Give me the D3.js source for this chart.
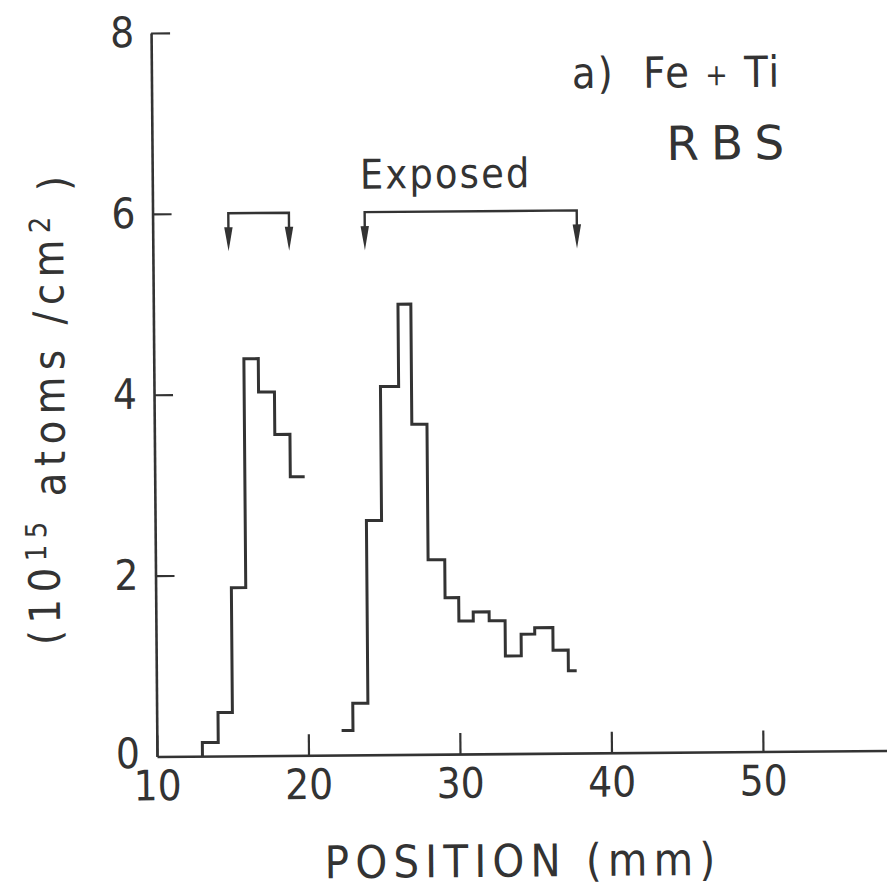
<!DOCTYPE html>
<html>
<head>
<meta charset="utf-8">
<script src="https://cdn.jsdelivr.net/npm/d3@7"></script>
<style>
  html, body { margin: 0; padding: 0; background: #fff; }
  svg { display: block; }
  text { font-family: "DejaVu Sans Condensed", "DejaVu Sans", sans-serif; font-stretch: condensed; fill: #333; }
  text.wide { font-family: "DejaVu Sans", sans-serif; font-stretch: normal; }
</style>
</head>
<body>
<svg id="chart" width="887" height="893"></svg>
<script>
// Fe + Ti areal density (10^15 atoms/cm^2) vs position, RBS
const leftEdges  = [13, 14.05, 15, 15.95, 16.9, 17.95, 18.95, 19.9];
const leftValues = [0.15, 0.48, 1.86, 4.39, 4.02, 3.55, 3.08];

const rightEdges  = [22.2, 22.95, 23.95, 24.95, 26.15, 27, 28, 29.1, 30, 30.95, 32, 33.05, 34.1, 35, 36.2, 37.2, 37.75];
const rightValues = [0.27, 0.57, 2.59, 4.07, 4.98, 3.65, 2.15, 1.73, 1.47, 1.57, 1.47, 1.08, 1.32, 1.39, 1.14, 0.91];

const xTicks = [10, 20, 30, 40, 50];
const yTicks = [0, 2, 4, 6, 8];

// exposed regions marked by brackets
const brackets = [[15, 19], [24, 38]];
const bracketLevel = 6.0;
const arrowTip = 5.58;

const ink = "#333";
const svg = d3.select("#chart");

// plot frame, origin at the lower-left corner, slightly tilted
const g = svg.append("g").attr("transform", "translate(157,756.5) rotate(-0.47)");

const x = d3.scaleLinear().domain([10, 58.2]).range([0, 730.2]);
const y = d3.scaleLinear().domain([0, 8]).range([0, -723.5]);

const fontSize = 42;

// x axis, ticks pointing up
const xAxis = g.append("g")
  .call(d3.axisBottom(x).tickValues(xTicks).tickSizeInner(-21).tickSizeOuter(0).tickPadding(14).tickFormat(d3.format("d")));
// y axis, ticks pointing right
const yAxis = g.append("g")
  .call(d3.axisLeft(y).tickValues(yTicks).tickSizeInner(-19).tickSizeOuter(0).tickPadding(17).tickFormat(d3.format("d")));

[xAxis, yAxis].forEach(a => {
  a.attr("font-family", null).attr("font-size", null);
  a.select(".domain").attr("stroke", ink).attr("stroke-width", 2.6);
  a.selectAll(".tick line").attr("stroke", ink).attr("stroke-width", 2.2);
  a.selectAll(".tick text").style("font-size", fontSize + "px").attr("fill", ink);
});
yAxis.selectAll(".tick").filter(d => d === 0).select("line").remove();
yAxis.selectAll(".tick").filter(d => d === 0).select("text").attr("dy", "0.26em");

// step profiles
function stepPoints(edges, values, fromZero) {
  const pts = [];
  if (fromZero) pts.push([edges[0], 0]);
  values.forEach((v, i) => pts.push([edges[i], v]));
  pts.push([edges[edges.length - 1], values[values.length - 1]]);
  return pts;
}
const line = d3.line().x(d => x(d[0])).y(d => y(d[1])).curve(d3.curveStepAfter);

[[leftEdges, leftValues, true], [rightEdges, rightValues, false]].forEach(([e, v, z]) => {
  g.append("path")
    .datum(stepPoints(e, v, z))
    .attr("d", line)
    .attr("fill", "none").attr("stroke", ink).attr("stroke-width", 3).attr("stroke-linejoin", "miter");
});

// brackets with downward arrows
const headLen = 24, headW = 4.2;
brackets.forEach(([a, b]) => {
  g.append("path")
    .attr("d", `M${x(a)},${y(arrowTip) - headLen + 2}V${y(bracketLevel)}H${x(b)}V${y(arrowTip) - headLen + 2}`)
    .attr("fill", "none").attr("stroke", ink).attr("stroke-width", 2.4);
  [a, b].forEach(p => {
    const tx = x(p), ty = y(arrowTip);
    g.append("path")
      .attr("d", `M${tx},${ty}L${tx - headW},${ty - headLen}L${tx + headW},${ty - headLen}Z`)
      .attr("fill", ink);
  });
});

// annotations
g.append("text").attr("x", x(23.7)).attr("y", y(6.26))
  .style("font-size", "41px").style("letter-spacing", "2.2px").text("Exposed");
g.append("text").attr("x", x(37.75)).attr("y", y(7.35))
  .style("font-size", "43px").style("letter-spacing", "2px").attr("xml:space", "preserve")
  .call(t => {
    t.append("tspan").text("a)  Fe ");
    t.append("tspan").style("font-size", "30px").attr("dy", "-2").text("+");
    t.append("tspan").attr("dy", "2").text(" Ti");
  });
g.append("text").attr("class", "wide").attr("x", x(43.95)).attr("y", y(6.55))
  .style("font-size", "47px").style("letter-spacing", "12px").text("RBS");

// axis titles
g.append("text")
  .attr("transform", `translate(${x(10) - 96},${y(3.87)}) rotate(-90)`)
  .attr("text-anchor", "middle")
  .style("font-size", "43px").style("letter-spacing", "6.5px")
  .attr("xml:space", "preserve")
  .call(t => {
    t.append("tspan").text("(10");
    t.append("tspan").attr("dy", "-0.45em").style("font-size", "29px").text("15");
    t.append("tspan").attr("dy", "0.45em").text(" atoms /cm");
    t.append("tspan").attr("dy", "-0.45em").style("font-size", "29px").text("2");
    t.append("tspan").attr("dy", "0.45em").text(" )");
  });
g.append("text")
  .attr("x", x(34.1)).attr("y", 123)
  .attr("text-anchor", "middle")
  .style("font-size", "45px").style("letter-spacing", "6.2px")
  .text("POSITION (mm)");
</script>
</body>
</html>
